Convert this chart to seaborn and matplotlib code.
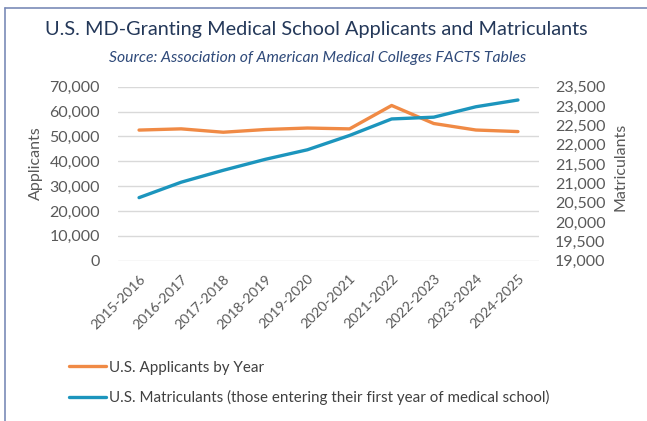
import numpy as np
import pandas as pd
import matplotlib.pyplot as plt
import matplotlib.ticker as mticker
from matplotlib.lines import Line2D
import seaborn as sns

# data (AAMC FACTS)
years = ["2015-2016", "2016-2017", "2017-2018", "2018-2019", "2019-2020",
         "2020-2021", "2021-2022", "2022-2023", "2023-2024", "2024-2025"]
applicants = [52550, 53042, 51680, 52777, 53371, 53030, 62443, 55188, 52577, 51946]
matriculants = [20631, 21030, 21338, 21622, 21869, 22239, 22666, 22712, 22981, 23156]

orange = "#F08A45"
blue = "#1C95BD"
grey = "#595959"

sns.set_theme(style="white")
plt.rcParams["font.family"] = ["Lato", "DejaVu Sans"]

df = pd.DataFrame({"year": years, "applicants": applicants, "matriculants": matriculants})
df["pos"] = np.arange(len(years))

fig = plt.figure(figsize=(6.47, 4.21), dpi=100)
ax = fig.add_axes([118 / 647, 1 - 260.7 / 421, 421 / 647, 174 / 421])
ax2 = ax.twinx()

sns.lineplot(data=df, x="pos", y="applicants", ax=ax, color=orange, lw=2.4)
sns.lineplot(data=df, x="pos", y="matriculants", ax=ax2, color=blue, lw=2.4)

ax.set_xlim(-0.5, len(years) - 0.5)
ax.set_ylim(0, 70000)
ax2.set_ylim(19000, 23500)
ax.set_yticks(np.arange(0, 70001, 10000))
ax2.set_yticks(np.arange(19000, 23501, 500))
fmt = mticker.FuncFormatter(lambda v, p: f"{int(v):,}")
ax.yaxis.set_major_formatter(fmt)
ax2.yaxis.set_major_formatter(fmt)

ax.set_xticks(df["pos"])
ax.set_xticklabels(years, rotation=45, ha="right", rotation_mode="anchor")
ax.grid(axis="y", color="#d9d9d9", lw=1)
ax.set_axisbelow(True)

for a in (ax, ax2):
    for s in a.spines.values():
        s.set_visible(False)
    a.tick_params(length=0, colors=grey, labelsize=11.5)
ax.tick_params(axis="x", labelsize=10.2, pad=8.5)
ax.tick_params(axis="y", pad=13)
ax2.tick_params(axis="y", pad=11.5)

ax.set_xlabel("")
ax.set_ylabel("Applicants", color=grey, fontsize=11.5)
ax2.set_ylabel("Matriculants", color=grey, fontsize=11.5)
ax.yaxis.set_label_coords((43 - 118) / 421, 0.56)
ax2.yaxis.set_label_coords((614 - 118) / 421, 0.54)

fig.text(316 / 647, 1 - 35 / 421, "U.S. MD-Granting Medical School Applicants and Matriculants",
         ha="center", va="baseline", fontsize=14.3, color="#243859")
fig.text(318 / 647, 1 - 62 / 421, "Source: Association of American Medical Colleges FACTS Tables",
         ha="center", va="baseline", fontsize=11.3, style="italic", color="#2F4A7A")

handles = [Line2D([], [], color=orange, lw=2.4), Line2D([], [], color=blue, lw=2.4)]
labels = ["U.S. Applicants by Year",
          "U.S. Matriculants (those entering their first year of medical school)"]
fig.legend(handles, labels, loc="upper left", bbox_to_anchor=(55 / 647, 1 - 347 / 421),
           frameon=False, fontsize=10.9, handlelength=2.5, handletextpad=0.15,
           labelspacing=1.0, labelcolor="#404040")

# frame lines (top and left) like the original graphic
fig.add_artist(Line2D([5 / 647, 1], [1 - 8 / 421] * 2, color="#7a8bb8", lw=1.2))
fig.add_artist(Line2D([5 / 647] * 2, [0, 1 - 8 / 421], color="#7a8bb8", lw=1.2))

fig.savefig("out.png", dpi=100)
